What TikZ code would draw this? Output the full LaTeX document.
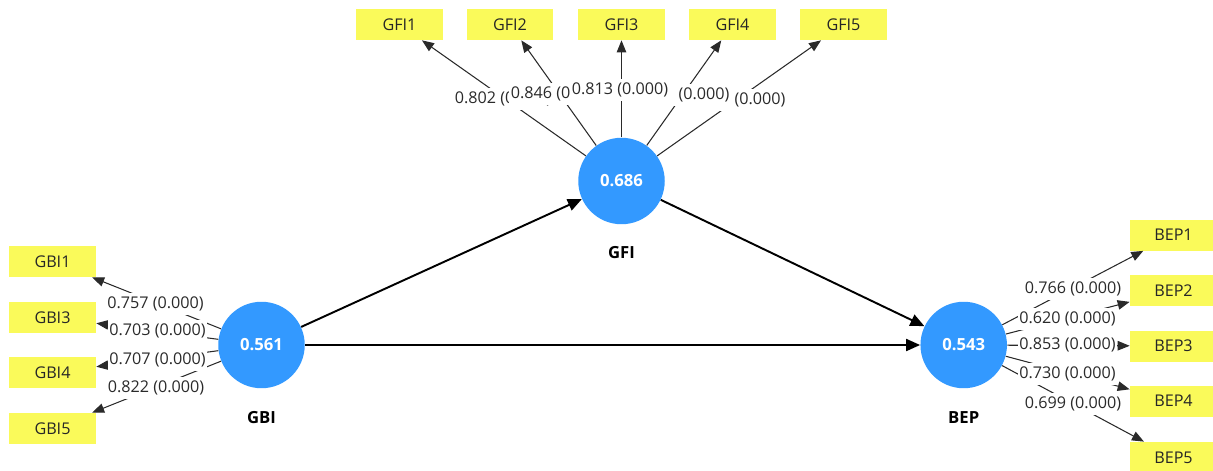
\documentclass[tikz,border=0pt]{standalone}
\usepackage{fontspec}
\setmainfont{Open Sans}
\usetikzlibrary{arrows.meta,positioning}
\definecolor{lvblue}{HTML}{3399FF}
\definecolor{indyellow}{HTML}{FAFA5A}
\definecolor{loadgray}{HTML}{2A2A2A}
\begin{document}
\begin{tikzpicture}[x=0.02cm, y=-0.02cm, font=\fontsize{9.2}{11}\selectfont, line join=round, >={Triangle[length=0.24cm,width=0.19cm]},
	lv/.style={circle, fill=lvblue, minimum size=1.73cm, inner sep=0pt, text=white, font=\fontsize{9.5}{11}\selectfont\bfseries},
	lvname/.style={inner sep=0pt, font=\fontsize{9.5}{11}\selectfont\bfseries},
	ind/.style={fill=indyellow, text=black!85, minimum width=1.74cm, minimum height=0.62cm, inner sep=0pt},
	load/.style={->, draw=loadgray, line width=0.6pt},
	structpath/.style={-{Triangle[length=0.28cm,width=0.24cm]}, line width=1.1pt},
	lbl/.style={fill=white, text=loadgray, inner xsep=1pt, inner ysep=0pt, minimum height=0.44cm},
	cut/.style={lbl, text width=1.9cm, align=#1}]
	\useasboundingbox (0,0) rectangle (1213,470);
	\node[lv] (gbi) at (261.5,345) {0.561};
	\node[lv] (gfi) at (621.5,181) {0.686};
	\node[lv] (bep) at (963.7,345) {0.543};
	\node[lvname, below=0.45cm of gbi] (gbi-name) {GBI};
	\node[lvname, below=0.42cm of gfi] (gfi-name) {GFI};
	\node[lvname, below=0.45cm of bep] (bep-name) {BEP};
	\foreach \i/\y in {1/261.5,3/317.5,4/372.5,5/428.5} \node[ind] (gbi\i) at (52.5,\y) {GBI\i};
	\foreach \i/\x in {1/399.5,2/510,3/621.5,4/732.5,5/843.5} \node[ind] (gfi\i) at (\x,24.5) {GFI\i};
	\foreach \i/\y in {1/235,2/290.5,3/346,4/401,5/457.5} \node[ind] (bep\i) at (1173.5,\y) {BEP\i};
	\draw[structpath] (gbi) -- (gfi);
	\draw[structpath] (gfi) -- (bep);
	\draw[structpath] (gbi) -- (bep);
	\foreach \i in {1,3,4,5} \draw[load] (gbi) -- (gbi\i);
	\foreach \i in {1,...,5} \draw[load] (gfi) -- (gfi\i);
	\foreach \i in {1,...,5} \draw[load] (bep) -- (bep\i);
	\foreach \i/\x/\y/\v in {1/155.5/303.5/0.757,3/157.5/331/0.703,4/157.5/359.5/0.707,5/156/387.5/0.822}
		\node[lbl] (l-gbi\i) at (\x,\y) {\v\ (0.000)};
	\foreach \i/\x/\y/\v in {1/1073/288.5/0.766,2/1067.5/318.5/0.620,3/1067.5/345/0.853,4/1067.5/373.5/0.730,5/1073/403.5/0.699}
		\node[lbl] (l-bep\i) at (\x,\y) {\v\ (0.000)};
	% GFI labels overlap, drawn back to front
	\node[lbl] (l-gfi1) at (503,99) {0.802 (0.000)};
	\node[cut=right] (l-gfi5) at (738,100) {(0.000)};
	\node[lbl] (l-gfi2) at (559,94) {0.846 (0.000)};
	\node[cut=right] (l-gfi4) at (682,95) {(0.000)};
	\node[lbl] (l-gfi3) at (620,90) {0.813 (0.000)};
\end{tikzpicture}
\end{document}
